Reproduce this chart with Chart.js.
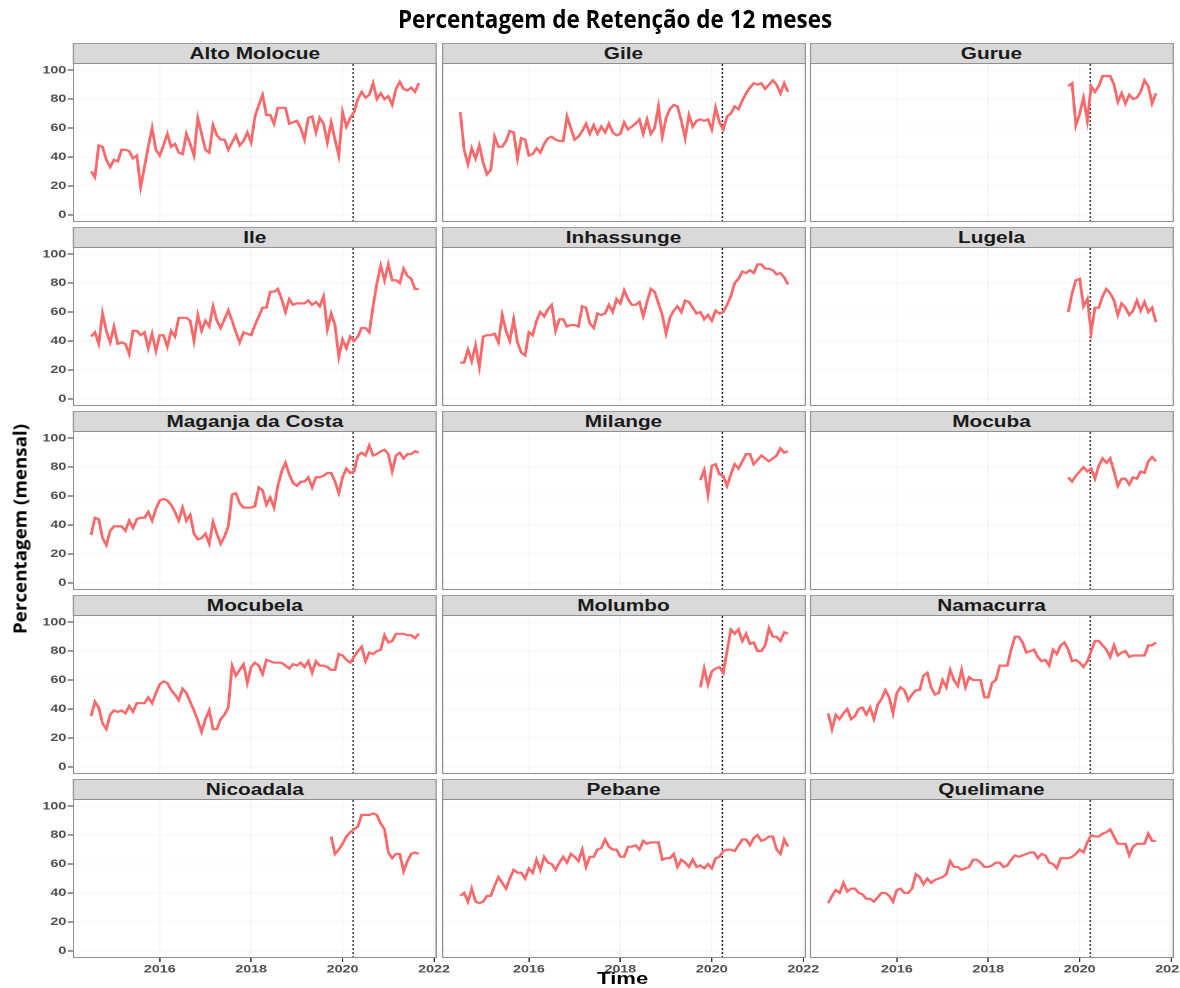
<!DOCTYPE html>
<html>
<head>
<meta charset="utf-8">
<script src="https://cdn.jsdelivr.net/npm/chart.js@4.4.1/dist/chart.umd.min.js"></script>
<style>
  html, body { margin: 0; padding: 0; background: #fff; overflow: hidden; }
  #page { position: relative; width: 1180px; height: 988px; overflow: hidden; }
  /* the ggplot part of the figure is stretched sideways in the original */
  #stretch { position: absolute; left: 0; top: 0; width: 908px; height: 988px; transform: scaleX(1.3); transform-origin: 0 0; }
  #stretch canvas { position: absolute; }
  .strip {
    position: absolute; box-sizing: border-box; height: 21px;
    background: #d9d9d9; border: 1px solid #9a9a9a;
    font: bold 16px 'Liberation Sans', Arial, sans-serif; color: #1a1a1a;
    text-align: center; line-height: 19px; white-space: nowrap;
  }
  #title {
    position: absolute; left: 615px; top: 6px; white-space: nowrap;
    font: bold 25px 'Open Sans', sans-serif; line-height: 25px; color: #000;
    transform-origin: 0 0;
  }
  #ylab {
    position: absolute; left: 20px; top: 529px; white-space: nowrap;
    font: bold 17px 'Open Sans', sans-serif; line-height: 17px; color: #000;
  }
  #xlab {
    position: absolute; left: 479px; top: 970px; white-space: nowrap;
    font: bold 17px 'Liberation Sans', Arial, sans-serif; line-height: 17px; color: #000;
    transform: translateX(-50%);
  }
</style>
</head>
<body>
<div id="page">
  <div id="stretch"></div>
  <div id="title">Percentagem de Retenção de 12 meses</div>
  <div id="ylab">Percentagem (mensal)</div>
</div>
<script>
// monthly series, full ones start Jul 2014, short ones Oct 2019
const fullStart = [2014, 7];
const shortStart = [2019, 10];
const covidLine = 2020.23;

const xTicks = [2016, 2018, 2020, 2022];
const yTicks = [0, 20, 40, 60, 80, 100];

const altoMolocue = [30,26,48,47,38,33,38,37,45,45, 44,39,41,19,33,47,60,45,41,48, 56,47,49,43,42,56,49,41,67,56,
  45,43,62,55,52,52,45,50,55,48, 51,57,50,68,76,83,69,69,63,74, 74,74,63,64,65,60,52,67,68,57,
  67,63,50,64,52,41,71,61,67,71, 80,85,81,83,91,80,84,80,82,76, 87,92,87,86,88,85,91];
const gile = [71,45,35,46,39,48,36,28,31,54, 47,47,51,58,57,39,53,52,41,42, 46,43,49,53,54,52,51,51,68,60,
  52,54,58,63,56,62,56,61,57,63, 57,55,56,64,59,61,63,66,56,66, 56,60,75,54,67,73,76,75,65,53,
  69,61,65,66,65,66,59,74,64,59, 68,70,75,73,79,84,88,91,90,91, 87,90,93,90,84,91,85];
const gurue = [89,91,62,70,81,65,89,85,89,96,96,96,90,78,84,77,83,80,81,85,93,89,77,84];
const ile = [43,46,38,59,47,39,50,38,39,38, 31,47,47,44,46,35,45,33,44,44, 36,47,43,56,56,56,54,40,58,47,
  54,50,64,54,49,55,61,54,46,39, 46,45,44,51,57,63,63,74,74,76, 69,60,69,65,66,66,66,68,65,67,
  64,71,48,59,51,29,41,35,43,40, 43,49,49,46,64,80,92,82,93,82, 82,80,90,85,83,76,76];
const inhassunge = [25,25,34,26,37,22,43,44,44,45, 39,58,47,40,55,39,32,30,46,44, 54,60,57,62,65,47,55,55,50,51,
  51,50,64,63,52,49,59,58,59,65, 60,69,66,75,69,65,65,67,57,67, 76,74,66,58,45,56,61,64,60,68,
  67,63,59,60,55,58,54,61,59,60, 65,71,80,83,88,87,89,87,93,93, 90,90,89,86,87,84,79];
const lugela = [60,73,82,83,64,69,46,63,63,71,76,73,68,58,66,63,58,61,68,61,67,60,63,53];
const maganja = [33,45,44,31,26,36,39,39,39,36, 43,38,44,45,45,49,43,51,57,58, 57,54,49,43,52,43,47,34,30,31,
  34,27,42,34,27,32,39,61,62,55, 52,52,52,53,66,64,54,59,52,67, 77,83,75,69,67,70,70,73,66,73,
  73,74,76,76,70,62,73,79,76,77, 88,90,88,95,88,89,91,92,89,77, 88,90,86,89,89,91,90];
const milange = [71,78,61,81,82,75,74,67,75,82,79,84,89,89,82,85,88,86,84,86,88,93,90,91];
const mocuba = [73,70,74,77,80,77,79,72,81,86,83,86,77,67,72,72,68,73,72,77,76,84,87,84];
const mocubela = [35,45,41,30,26,36,39,38,39,37, 42,38,44,44,44,48,44,51,57,59, 58,53,50,46,54,51,45,39,32,24,
  33,39,26,26,33,36,41,70,63,67, 71,58,69,72,70,64,74,73,72,72, 72,70,68,71,70,72,69,73,65,73,
  70,70,69,67,67,78,77,74,72,76, 80,83,73,79,78,80,81,91,86,87, 92,92,92,91,91,89,92];
const molumbo = [55,68,57,66,68,69,65,80,95,92,95,87,92,85,86,80,80,84,96,90,90,87,93,92];
const namacurra = [37,26,36,33,37,40,33,35,40,41, 36,41,33,43,47,53,48,37,51,55, 53,46,50,53,53,63,65,55,50,51,
  60,55,67,60,56,67,55,62,60,60, 60,48,48,58,60,70,70,70,81,90, 90,86,79,80,81,76,73,74,70,81,
  78,84,86,81,73,74,72,69,73,80, 87,87,84,81,76,84,77,79,80,76, 77,77,77,77,84,84,86];
const nicoadala = [79,67,70,74,79,82,84,86,94,94,94,95,94,88,84,68,64,67,67,55,62,67,68,67];
const pebane = [38,40,34,43,34,33,34,38,38,45, 51,47,43,50,56,54,54,50,57,54, 63,56,65,61,60,56,61,65,61,67,
  65,62,70,58,65,65,70,71,77,72, 70,70,65,65,72,72,73,70,76,74, 75,75,75,63,64,64,67,58,63,61,
  58,63,58,59,57,60,57,64,65,69, 70,70,69,73,77,77,73,78,80,76, 77,79,79,70,67,77,72];
const quelimane = [33,38,42,40,47,41,43,43,40,39, 36,36,34,37,40,40,38,34,42,43, 40,40,43,53,51,46,50,47,49,50,
  51,53,62,58,58,56,57,58,63,63, 61,58,58,59,61,61,58,59,63,66, 65,66,67,68,68,64,67,66,61,60,
  57,64,64,64,65,67,70,68,75,80, 79,79,81,82,84,79,74,74,74,66, 72,74,74,74,81,76,76];

const panels = [
  ['Alto Molocue', altoMolocue, fullStart], ['Gile', gile, fullStart], ['Gurue', gurue, shortStart],
  ['Ile', ile, fullStart], ['Inhassunge', inhassunge, fullStart], ['Lugela', lugela, shortStart],
  ['Maganja da Costa', maganja, fullStart], ['Milange', milange, shortStart], ['Mocuba', mocuba, shortStart],
  ['Mocubela', mocubela, fullStart], ['Molumbo', molumbo, shortStart], ['Namacurra', namacurra, fullStart],
  ['Nicoadala', nicoadala, shortStart], ['Pebane', pebane, fullStart], ['Quelimane', quelimane, fullStart]
];

// layout, in unstretched px
const colLeft = [56, 339.6, 622.7];
const panelW = 280;
const stripH = 20;
const plotH = 159;
const rowTop = r => 43 + 184 * r;
const bottomH = 18;
const rightExtra = 20;
const lineColor = '#f8696b';
const gridColor = 'rgba(0,0,0,0.035)';
const tickFont = { family: "'Liberation Sans', Arial, sans-serif", size: 11, weight: 'bold' };

const toYear = (start, k) => start[0] + (start[1] - 1 + k) / 12;

const panelBorder = {
  id: 'panelBorder',
  afterDraw(chart) {
    const a = chart.chartArea, ctx = chart.ctx;
    ctx.save();
    ctx.strokeStyle = '#8f8f8f';
    ctx.lineWidth = 1;
    ctx.strokeRect(a.left + 0.5, a.top + 0.5, a.width - 1, a.height - 1);
    ctx.restore();
  }
};

// labels may overhang the panel, as they do in ggplot
const noOverhang = s => { s.paddingLeft = 0; s.paddingRight = 0; s.paddingTop = 0; s.paddingBottom = 0; };

const stretch = document.getElementById('stretch');

panels.forEach(([name, values, start], i) => {
  const r = Math.floor(i / 3), c = i % 3;
  const leftCol = c === 0, bottomRow = r === 4;

  const strip = document.createElement('div');
  strip.className = 'strip';
  strip.textContent = name;
  strip.style.left = colLeft[c] + 'px';
  strip.style.top = rowTop(r) + 'px';
  strip.style.width = panelW + 'px';
  stretch.appendChild(strip);

  const canvas = document.createElement('canvas');
  const w = (leftCol ? colLeft[0] : 0) + panelW + (bottomRow ? rightExtra : 0);
  const h = plotH + (bottomRow ? bottomH : 0);
  canvas.width = w;
  canvas.height = h;
  canvas.style.left = (leftCol ? 0 : colLeft[c]) + 'px';
  canvas.style.top = (rowTop(r) + stripH) + 'px';
  stretch.appendChild(canvas);

  new Chart(canvas.getContext('2d'), {
    type: 'line',
    data: {
      datasets: [{
        data: values.map((v, k) => ({ x: toYear(start, k), y: v })),
        borderColor: lineColor,
        borderWidth: 2.2,
        pointRadius: 0,
        tension: 0
      }, {
        data: [{ x: covidLine, y: -5 }, { x: covidLine, y: 105 }],
        borderColor: '#222',
        borderWidth: 1,
        borderDash: [2, 2],
        pointRadius: 0
      }]
    },
    options: {
      responsive: false,
      animation: false,
      devicePixelRatio: 2,
      layout: { padding: { left: 0, top: 0, bottom: 0, right: bottomRow ? rightExtra : 0 } },
      plugins: { legend: { display: false }, tooltip: { enabled: false } },
      scales: {
        x: {
          type: 'linear', min: 2014.1, max: 2022.06,
          afterBuildTicks: s => { s.ticks = xTicks.map(v => ({ value: v })); },
          afterFit: s => { s.height = bottomRow ? bottomH : 0; noOverhang(s); },
          border: { display: false },
          grid: { color: gridColor, tickColor: '#333', tickLength: 4, drawTicks: bottomRow },
          ticks: { display: bottomRow, autoSkip: false, maxRotation: 0, padding: 1, color: '#4d4d4d', font: tickFont, callback: v => String(v) }
        },
        y: {
          min: -5, max: 105,
          afterBuildTicks: s => { s.ticks = yTicks.map(v => ({ value: v })); },
          afterFit: s => { s.width = leftCol ? colLeft[0] : 0; noOverhang(s); },
          border: { display: false },
          grid: { color: gridColor, tickColor: '#333', tickLength: 4, drawTicks: leftCol },
          ticks: { display: leftCol, autoSkip: false, padding: 1, color: '#4d4d4d', font: tickFont, callback: v => String(v) }
        }
      }
    },
    plugins: [panelBorder]
  });
});

const xlab = document.createElement('div');
xlab.id = 'xlab';
xlab.textContent = 'Time';
stretch.appendChild(xlab);

// squeeze the two outer titles to the widths they have in the figure
const title = document.getElementById('title');
title.style.transform = 'translateX(-50%) scaleX(' + (434 / title.offsetWidth) + ')';
title.style.transformOrigin = '50% 0';
const ylab = document.getElementById('ylab');
ylab.style.transform = 'translate(-50%, -50%) rotate(-90deg) scaleX(' + (210 / ylab.offsetWidth) + ')';
</script>
</body>
</html>
